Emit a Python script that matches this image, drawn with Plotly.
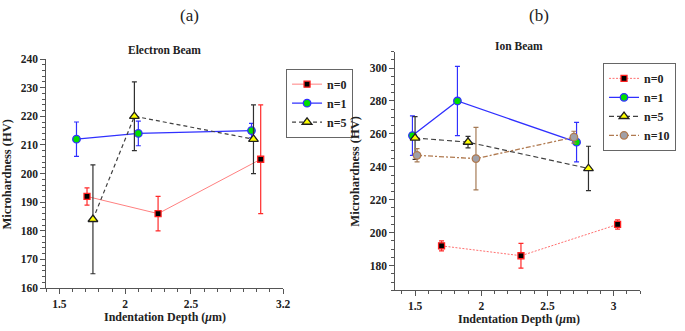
import plotly.graph_objects as go

W, H = 685, 331

# ---------------- data ----------------
# (a) Electron Beam
eb_n0_x = [1.71, 2.25, 3.03]
eb_n0_y = [192, 186, 205]
eb_n0_e = [3, 6, 19]

eb_n1_x = [1.63, 2.10, 2.96]
eb_n1_y = [212, 214, 215]
eb_n1_e = [6, 4.3, 2.5]

eb_n5_x = [1.755, 2.07, 2.975]
eb_n5_y = [184, 220, 212]
eb_n5_e = [19, 12, 12]

# (b) Ion Beam
ib_n0_x = [1.70, 2.30, 3.03]
ib_n0_y = [192, 186, 205]
ib_n0_e = [3, 7.5, 2.8]

ib_n1_x = [1.48, 1.82, 2.72]
ib_n1_y = [259, 280, 255]
ib_n1_e = [12, 21, 12]

ib_n5_x = [1.50, 1.90, 2.81]
ib_n5_y = [257.5, 255, 239]
ib_n5_e = [13, 3.5, 13.5]

ib_n10_x = [1.515, 1.96, 2.70]
ib_n10_y = [247, 245, 258]
ib_n10_e = [4, 19, 3.6]

left_xticks = [1.5, 2, 2.5, 3.2]
left_xticklabels = ["1.5", "2", "2.5", "3.2"]
left_yticks = [160, 170, 180, 190, 200, 210, 220, 230, 240]
right_xticks = [1.5, 2, 2.5, 3]
right_xticklabels = ["1.5", "2", "2.5", "3"]
right_yticks = [180, 200, 220, 240, 260, 280, 300]

FONT = "Liberation Serif"

fig = go.Figure()

def add(x, y, e, name, xa, ya, legend, lcolor, lwidth, dash, ecolor, symbol, msize, mfill, mline):
    fig.add_trace(go.Scatter(
        x=x, y=y, name="<b>" + name + "</b>", mode="lines+markers",
        xaxis=xa, yaxis=ya, legend=legend,
        line=dict(color=lcolor, width=lwidth, dash=dash),
        marker=dict(symbol=symbol, size=msize, color=mfill,
                    line=dict(color=mline, width=1.3)),
        error_y=dict(type="data", array=e, visible=True, color=ecolor,
                     thickness=1.2, width=2.5),
    ))

# left panel
add(eb_n0_x, eb_n0_y, eb_n0_e, "n=0", "x", "y", "legend", "#ff8080", 1, "solid", "#ff2a2a", "square", 6, "#000000", "#ff2020")
add(eb_n1_x, eb_n1_y, eb_n1_e, "n=1", "x", "y", "legend", "#3030ff", 1.3, "solid", "#3030ff", "circle", 7.5, "#00e000", "#3030ff")
add(eb_n5_x, eb_n5_y, eb_n5_e, "n=5", "x", "y", "legend", "#404040", 1.2, "4px,3px", "#303030", "triangle-up", 8.5, "#ffff00", "#202020")

# right panel
add(ib_n0_x, ib_n0_y, ib_n0_e, "n=0", "x2", "y2", "legend2", "#ff7070", 1, "2px,1.5px", "#ff2a2a", "square", 6, "#000000", "#ff2020")
add(ib_n1_x, ib_n1_y, ib_n1_e, "n=1", "x2", "y2", "legend2", "#3030ff", 1.3, "solid", "#3030ff", "circle", 7.5, "#00e000", "#3030ff")
add(ib_n5_x, ib_n5_y, ib_n5_e, "n=5", "x2", "y2", "legend2", "#404040", 1.2, "5px,3px", "#303030", "triangle-up", 8.5, "#ffff00", "#202020")
add(ib_n10_x, ib_n10_y, ib_n10_e, "n=10", "x2", "y2", "legend2", "#b07a50", 1.3, "5px,2px,2px,2px", "#a57a55", "circle", 7.5, "#a0a0a8", "#b07a50")

def px(v): return v / W
def py(v): return 1 - v / H

def b(vals):
    return ["<b>%s</b>" % v for v in vals]

tickfont = dict(family=FONT, size=11.5, color="#222")
axcommon = dict(showline=True, linecolor="#555", linewidth=1, showgrid=False, zeroline=False,
                ticks="outside", ticklen=5, tickcolor="#555", tickfont=tickfont, mirror=False)

fig.update_layout(
    width=W, height=H, margin=dict(l=0, r=0, t=0, b=0),
    paper_bgcolor="white", plot_bgcolor="white",
    font=dict(family=FONT, color="#222"),
    xaxis=dict(domain=[px(46.7), px(286)], range=[1.4, 3.2], anchor="y",
               tickmode="array", tickvals=left_xticks, ticktext=b(left_xticklabels),
               minor=dict(tickmode="linear", tick0=1.4, dtick=0.1, ticklen=3, ticks="outside", tickcolor="#555"),
               **axcommon),
    yaxis=dict(domain=[py(292.7), py(55)], range=[160, 240], anchor="x",
               tickmode="array", tickvals=left_yticks, ticktext=b(left_yticks),
               minor=dict(tickmode="linear", tick0=160, dtick=2, ticklen=3, ticks="outside", tickcolor="#555"),
               **axcommon),
    xaxis2=dict(domain=[px(399.3), px(646.7)], range=[1.35, 3.2], anchor="y2",
                tickmode="array", tickvals=right_xticks, ticktext=b(right_xticklabels),
                minor=dict(tickmode="linear", tick0=1.4, dtick=0.1, ticklen=3, ticks="outside", tickcolor="#555"),
                **axcommon),
    yaxis2=dict(domain=[py(295), py(47.3)], range=[165, 310], anchor="x2",
                tickmode="array", tickvals=right_yticks, ticktext=b(right_yticks),
                minor=dict(tickmode="linear", tick0=165, dtick=5, ticklen=3, ticks="outside", tickcolor="#555"),
                **axcommon),
    legend=dict(x=px(289), y=py(65), xanchor="left", yanchor="top",
                bordercolor="#666", borderwidth=1, bgcolor="white",
                font=dict(family=FONT, size=12, color="#222"),
                itemwidth=30, tracegroupgap=0),
    legend2=dict(x=px(683), y=py(59), xanchor="right", yanchor="top",
                 bordercolor="#666", borderwidth=1, bgcolor="white",
                 font=dict(family=FONT, size=12, color="#222"),
                 itemwidth=30, tracegroupgap=0),
    showlegend=True,
)

def ann(text, x, y, size, bold=True, angle=0):
    if bold:
        text = "<b>" + text + "</b>"
    fig.add_annotation(text=text, x=px(x), y=py(y), xref="paper", yref="paper",
                       showarrow=False, xanchor="center", yanchor="middle", textangle=angle,
                       font=dict(family=FONT, size=size, color="#222"))

ann("(a)", 191, 10, 17, bold=False)
ann("(b)", 545, 10, 17, bold=False)
ann("Electron Beam", 166, 46, 11.5)
ann("Ion Beam", 524, 41, 11.5)
ann("Microhardness (HV)", 7, 174, 12.5, angle=-90)
ann("Microhardness (HV)", 358.5, 171, 12.5, angle=-90)
ann("Indentation Depth (<i>μ</i>m)", 166.7, 323, 12)
ann("Indentation Depth (<i>μ</i>m)", 524, 325, 12)

fig.write_html("out.html", config={"displayModeBar": False},
               post_script="document.body.style.margin='0';document.body.style.overflow='hidden';")
